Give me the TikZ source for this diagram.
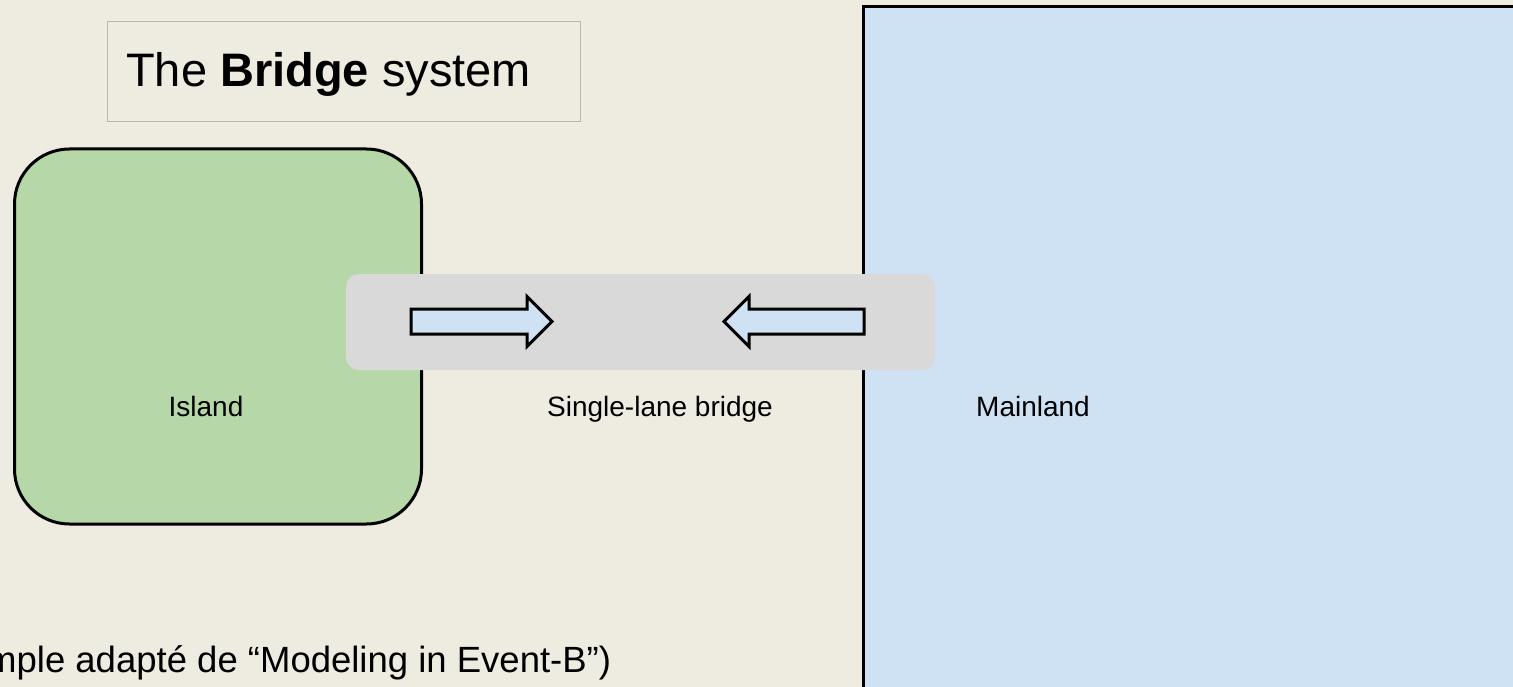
\documentclass[tikz,border=0pt]{standalone}
\usepackage{fontspec}
\setmainfont{Liberation Sans}

\definecolor{paper}{HTML}{EEECE1}
\definecolor{islandgreen}{HTML}{B6D7A8}
\definecolor{mainblue}{HTML}{CFE2F3}
\definecolor{deckgray}{HTML}{D9D9D9}
\definecolor{framegray}{HTML}{B7B7B7}

\begin{document}
\begin{tikzpicture}[x=1pt,y=-1pt,
    land/.style={draw=black,line width=3pt},
    lanearrow/.style={draw=black,fill=mainblue,line width=3pt},
    placename/.style={anchor=base,font=\fontsize{28}{34}\selectfont}]

  \useasboundingbox (0,0) rectangle (1513,687);
  \clip (0,0) rectangle (1513,687);
  \fill [paper] (0,0) rectangle (1513,687);

  % the two shores
  \draw [land,fill=mainblue] (863.5,6.5) rectangle (1530,700);
  \draw [land,fill=islandgreen,rounded corners=55pt] (14.5,149) rectangle (421.5,524);

  % bridge deck, one arrow per direction
  \fill [deckgray,rounded corners=13pt] (346,274) rectangle (935,370);
  \draw [lanearrow] (411,309) -- (527,309) -- (527,296.5) -- (552,321.5)
    -- (527,346.5) -- (527,334) -- (411,334) -- cycle;
  \draw [lanearrow] (864,309) -- (749,309) -- (749,296.5) -- (724,321.5)
    -- (749,346.5) -- (749,334) -- (864,334) -- cycle;

  % heading
  \draw [framegray,line width=1pt] (107,22) rectangle (580,122);
  \node (title) at (126,87) [anchor=base west,inner sep=0,font=\fontsize{47}{56}\selectfont]
    {The \textbf{Bridge} system};

  \node (island)   at (206,416)  [placename] {Island};
  \node (bridge)   at (660,416)  [placename] {Single-lane bridge};
  \node (mainland) at (1033,416) [placename] {Mainland};

  \node (source) at (-89,672) [anchor=base west,inner sep=0,font=\fontsize{36.5}{44}\selectfont]
    {(Exemple adapté de “Modeling in Event-B”)};
\end{tikzpicture}
\end{document}
